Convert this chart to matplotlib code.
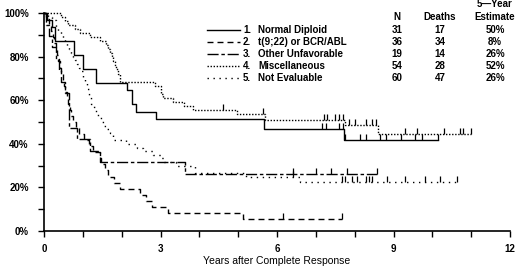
import numpy as np
import matplotlib
matplotlib.use("Agg")
import matplotlib.pyplot as plt
from matplotlib.lines import Line2D

plt.rcParams['font.family'] = ['Liberation Sans', 'DejaVu Sans']
plt.rcParams['font.weight'] = 'bold'

# table shown in the legend
groups = ["Normal Diploid", "t(9;22) or BCR/ABL", "Other Unfavorable",
          "Miscellaneous", "Not Evaluable"]
n_pts = [31, 36, 19, 54, 60]
n_deaths = [17, 34, 14, 28, 47]
est_5yr = ["50%", "8%", "26%", "52%", "26%"]

# Kaplan-Meier steps (years, % surviving) and censor times
nd_t = [0.08, 0.20, 0.28, 0.77, 1.01, 1.35, 2.14, 2.26, 2.37, 2.88, 5.67, 7.73]
nd_s = [96.8, 93.5, 87.1, 80.6, 74.2, 67.7, 64.5, 58.1, 54.8, 51.6, 46.9, 41.7]
nd_c = [7.15, 7.25, 7.6, 7.7, 7.76, 8.14, 8.3, 8.65, 8.8, 9.2, 9.55, 9.73, 10.15]

bcr_t = [0.05, 0.12, 0.18, 0.22, 0.27, 0.30, 0.33, 0.37, 0.40, 0.44, 0.48, 0.52,
         0.55, 0.58, 0.62, 0.66, 0.70, 0.75, 0.82, 0.90, 1.02, 1.15, 1.27, 1.43,
         1.46, 1.57, 1.66, 1.80, 1.96, 2.47, 2.63, 2.77, 3.20, 5.13]
bcr_s = [97.2, 94.4, 91.7, 88.9, 86.1, 83.3, 80.6, 77.8, 75.0, 72.2, 69.4, 66.7,
         63.9, 61.1, 58.3, 55.6, 52.8, 50.0, 47.2, 44.4, 41.7, 38.9, 36.1, 33.3,
         30.6, 27.8, 25.0, 22.2, 19.4, 16.7, 13.9, 11.1, 8.3, 5.6]
bcr_c = [6.16, 7.68]

ou_t = [0.05, 0.12, 0.20, 0.30, 0.38, 0.45, 0.55, 0.65, 0.85, 1.18, 1.44, 3.63]
ou_s = [94.7, 89.5, 84.2, 78.9, 73.7, 68.4, 63.2, 47.4, 42.1, 36.8, 31.6, 26.3]
ou_c = [6.4, 7.0, 7.4, 7.8, 8.58]

mi_t = [0.45, 0.55, 0.62, 0.80, 0.93, 1.18, 1.44, 1.60, 1.65, 1.70, 1.74, 1.78,
        1.82, 1.86, 1.90, 1.95, 2.86, 3.00, 3.07, 3.32, 3.60, 3.84, 4.97, 5.70,
        7.75, 8.60]
mi_s = [98.1, 96.3, 94.4, 92.6, 90.7, 88.9, 87.0, 85.2, 83.3, 81.5, 79.6, 77.8,
        75.9, 74.1, 72.2, 68.5, 66.7, 63.0, 61.1, 59.3, 57.4, 55.6, 53.7, 51.0,
        48.8, 44.5]
mi_c = [4.6, 5.65, 7.2, 7.3, 7.5, 7.6, 7.7, 7.85, 8.0, 8.3, 8.45, 8.55, 9.3,
        9.6, 10.3, 10.7, 10.8, 11.0]

ne_t = [0.10, 0.20, 0.30, 0.35, 0.45, 0.50, 0.55, 0.60, 0.65, 0.70, 0.75, 0.80,
        0.85, 0.90, 0.95, 1.00, 1.05, 1.10, 1.15, 1.20, 1.30, 1.35, 1.45, 1.50,
        1.55, 1.62, 1.70, 1.78, 2.10, 2.40, 2.55, 2.80, 3.00, 3.10, 3.40, 3.90,
        5.20, 6.60]
ne_s = [98.3, 96.7, 93.3, 91.7, 90.0, 88.3, 86.7, 85.0, 83.3, 81.7, 80.0, 78.3,
        76.7, 75.0, 73.3, 70.0, 68.3, 65.0, 61.7, 58.3, 56.7, 53.3, 51.7, 50.0,
        48.3, 46.7, 45.0, 41.7, 40.0, 38.3, 36.7, 35.0, 33.3, 31.7, 30.0, 26.7,
        24.7, 22.4]
ne_c = [6.4, 7.67, 7.75, 7.93, 8.06, 8.3, 8.38, 8.45, 8.84, 9.3, 9.8, 10.2, 10.64]

curves = [(nd_t, nd_s, nd_c), (bcr_t, bcr_s, bcr_c), (ou_t, ou_s, ou_c),
          (mi_t, mi_s, mi_c), (ne_t, ne_s, ne_c)]
styles = ['-', (0, (4.3, 2.9)), (0, (8, 2, 2.5, 2)), (0, (1, 1.2)), (0, (1, 3.3))]

W, H = 520, 267
fig = plt.figure(figsize=(W / 100, H / 100), dpi=100)
ax = fig.add_axes([44 / W, 1 - 231 / H, 466 / W, 218 / H])


def fx(px):
    return px / W


def fy(py):
    return 1 - py / H


for (t, s, c), ls in zip(curves, styles):
    t = np.asarray(t)
    s = np.asarray(s)
    tt = np.r_[0, t, max(c)]
    ss = np.r_[100, s, s[-1]]
    ax.step(tt, ss, where='post', color='k', lw=1.0, ls=ls, clip_on=False)
    idx = np.searchsorted(t, c, side='right') - 1
    cy = np.where(idx >= 0, s[np.clip(idx, 0, None)], 100)
    ax.plot(c, cy, ls='none', marker=2, ms=4, mew=0.9, color='k', clip_on=False)

ax.set_xlim(0, 12)
ax.set_ylim(0, 100)
ax.spines['top'].set_visible(False)
ax.spines['right'].set_visible(False)
for sp in ('left', 'bottom'):
    ax.spines[sp].set_linewidth(1.2)
ax.set_xticks([0, 3, 6, 9, 12])
ax.set_xticks(range(13), minor=True)
ax.set_yticks(range(0, 101, 20))
ax.set_yticklabels([f"{v}%" for v in range(0, 101, 20)])
ax.set_yticks(range(10, 100, 20), minor=True)
ax.tick_params(which='both', width=1.0, labelsize=7)
ax.tick_params(which='major', length=4)
ax.tick_params(which='minor', length=4)
ax.tick_params(axis='y', pad=7)
ax.tick_params(axis='x', pad=5)
ax.set_xlabel("Years after Complete Response", fontsize=7.5, labelpad=2)

# legend table drawn by hand
rows_y = [30, 42, 54, 66, 78]
fig.text(fx(397), fy(17), "N", ha='center', va='center', fontsize=7)
fig.text(fx(440), fy(17), "Deaths", ha='center', va='center', fontsize=7)
fig.text(fx(495), fy(17), "Estimate", ha='center', va='center', fontsize=7)
fig.text(fx(495), fy(4), "5\u2014Year", ha='center', va='center', fontsize=7)
for i, py in enumerate(rows_y):
    fig.add_artist(Line2D([fx(207), fx(240)], [fy(py), fy(py)], color='k',
                          lw=1.0, ls=styles[i]))
    fig.text(fx(243), fy(py), f"{i + 1}.", ha='left', va='center', fontsize=7)
    fig.text(fx(258), fy(py), groups[i], ha='left', va='center', fontsize=7)
    fig.text(fx(397), fy(py), str(n_pts[i]), ha='center', va='center', fontsize=7)
    fig.text(fx(440), fy(py), str(n_deaths[i]), ha='center', va='center', fontsize=7)
    fig.text(fx(495), fy(py), est_5yr[i], ha='center', va='center', fontsize=7)

fig.savefig("out.png", dpi=100)
